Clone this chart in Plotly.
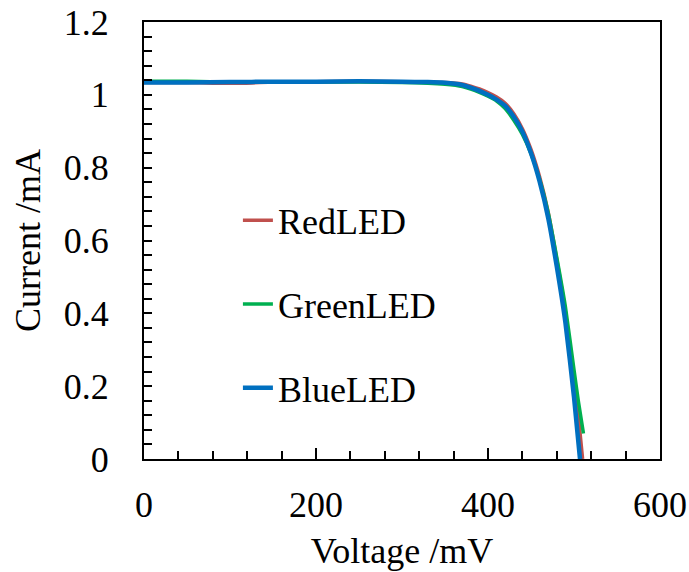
import plotly.graph_objects as go

# Voltage (mV) and current (mA)
v_red = [0, 50, 80, 117, 150, 200, 250, 300, 330, 350, 370, 380, 390, 400, 410, 420, 430, 440, 450, 460, 470, 480, 490, 500, 505, 510]
i_red = [1.034, 1.034, 1.032, 1.032, 1.035, 1.036, 1.037, 1.036, 1.035, 1.034, 1.030, 1.024, 1.016, 1.006, 0.994, 0.977, 0.948, 0.907, 0.850, 0.775, 0.678, 0.548, 0.405, 0.215, 0.120, 0.0]

v_green = [0, 50, 77, 150, 200, 250, 300, 330, 350, 370, 380, 390, 400, 410, 420, 430, 440, 450, 460, 470, 480, 490, 500, 505, 511]
i_green = [1.037, 1.037, 1.036, 1.035, 1.035, 1.035, 1.034, 1.032, 1.029, 1.023, 1.016, 1.007, 0.996, 0.983, 0.962, 0.930, 0.891, 0.838, 0.768, 0.676, 0.553, 0.418, 0.245, 0.160, 0.070]

v_blue = [0, 50, 100, 150, 200, 250, 300, 330, 350, 370, 380, 390, 400, 410, 420, 430, 440, 450, 460, 470, 480, 490, 500, 507]
i_blue = [1.034, 1.034, 1.035, 1.036, 1.036, 1.037, 1.036, 1.035, 1.033, 1.027, 1.020, 1.011, 1.000, 0.987, 0.970, 0.940, 0.899, 0.840, 0.762, 0.662, 0.528, 0.375, 0.170, 0.0]

series = [
    ("RedLED", v_red, i_red, "#C0504D", 3.5),
    ("GreenLED", v_green, i_green, "#00B050", 3.5),
    ("BlueLED", v_blue, i_blue, "#0070C0", 4.5),
]

font_family = "Liberation Serif, Times New Roman, serif"
fs = 36

fig = go.Figure()
for k, (name, v, i, col, w) in enumerate(series):
    fig.add_trace(go.Scatter(
        x=v, y=i, mode="lines", name=name, legendgroup=name,
        line=dict(color=col, width=w, shape="spline", smoothing=0.5),
    ))

fig.update_layout(
    width=689, height=572,
    margin=dict(l=144, r=29, t=22, b=113),
    paper_bgcolor="white", plot_bgcolor="white",
    font=dict(family=font_family, size=fs, color="black"),
    showlegend=True,
    legend=dict(
        x=0.182, y=0.615, xanchor="left", yanchor="top",
        bgcolor="rgba(0,0,0,0)", borderwidth=0,
        tracegroupgap=34,
        font=dict(family=font_family, size=fs, color="black"),
    ),
    xaxis=dict(
        range=[0, 600], dtick=200, tick0=0, automargin=False,
        ticks="inside", ticklen=11, tickwidth=2, tickcolor="black",
        minor=dict(dtick=40, ticks="inside", ticklen=8, tickwidth=2, tickcolor="black"),
        showline=True, linewidth=2, linecolor="black", mirror=True,
        showgrid=False, zeroline=False,
        ticklabelstandoff=13,
        title=dict(text="Voltage /mV", standoff=14, font=dict(size=fs)),
        tickfont=dict(size=fs),
    ),
    yaxis=dict(
        range=[0, 1.2], dtick=0.2, tick0=0, automargin=False,
        ticks="inside", ticklen=8, tickwidth=2, tickcolor="black",
        minor=dict(dtick=0.04, ticks="inside", ticklen=8, tickwidth=2, tickcolor="black"),
        showline=True, linewidth=2, linecolor="black", mirror=True,
        showgrid=False, zeroline=False,
        ticklabelstandoff=26,
        title=dict(text="Current /mA", standoff=12, font=dict(size=fs)),
        tickfont=dict(size=fs),
    ),
)

fig.write_html("out.html")
